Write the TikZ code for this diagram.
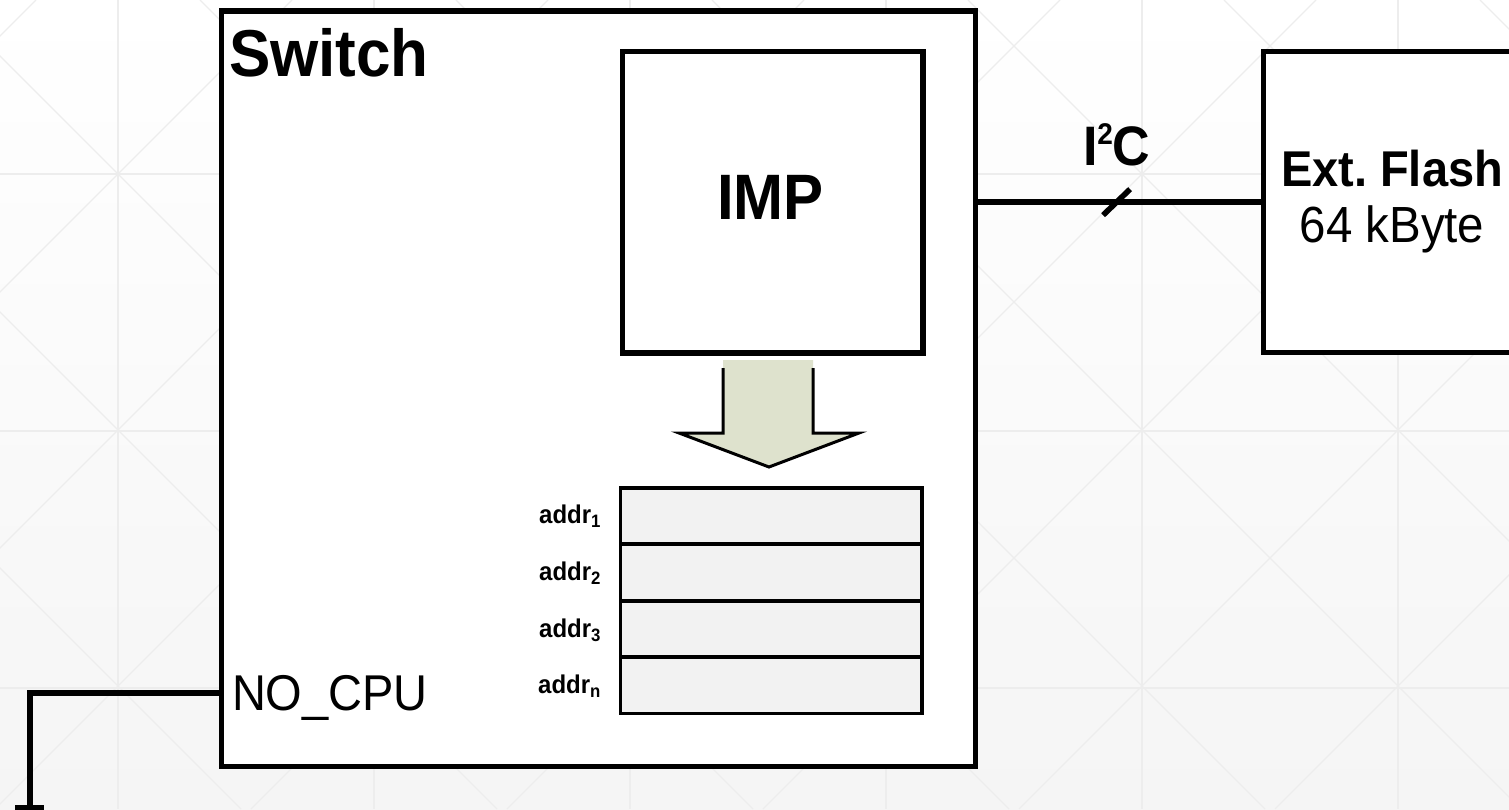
\documentclass[tikz,border=0pt]{standalone}
\usepackage{fontspec}
\setmainfont{Liberation Sans}
\usepackage{graphicx}
\usetikzlibrary{calc}
\definecolor{bgbot}{RGB}{245,245,245}
\definecolor{gridc}{RGB}{237,237,237}
\definecolor{arrowc}{RGB}{222,226,205}
\definecolor{rowc}{RGB}{242,242,242}
\newcommand{\tl}[1]{\scalebox{1}[1.07]{#1}}
\newcommand{\fsz}[1]{\fontsize{#1}{#1}\selectfont}
\begin{document}
\begin{tikzpicture}[x=1pt,y=-1pt,
  box/.style={draw=black, line width=5.8pt, fill=white, anchor=north west, inner sep=0pt},
  rowbox/.style={draw=black, line width=3.8pt, fill=rowc, anchor=north west, inner sep=0pt,
    minimum width=301.5pt, minimum height=56.4pt},
  lbl/.style={inner sep=0pt, outer sep=0pt},
  wire/.style={draw=black, line width=5.6pt},
  gridline/.style={draw=gridc, line width=1.3pt}]
\useasboundingbox (0,0) rectangle (1509,809);
\clip (0,0) rectangle (1509,809);
% background
\shade[top color=white, bottom color=bgbot] (0,0) rectangle (1509,809);
\begin{scope}[gridline]
  \foreach \x in {118,374,...,1398} \draw (\x,0) -- (\x,809);
  \foreach \y in {174,431,688} \draw (0,\y) -- (1509,\y);
  \foreach \c in {-824,-568,...,1480} \draw (\c,0) -- (\c+809,809);
  \foreach \d in {36,292,...,2340} \draw (\d,0) -- (\d-809,809);
\end{scope}
% boxes
\node[box, minimum width=754pt, minimum height=755.5pt] (sw) at (218.5,8) {};
\node[box, minimum width=300.5pt, minimum height=301.5pt] (imp) at (619.5,48.5) {};
\node[box, minimum width=300pt, minimum height=301pt] (flash) at (1260.5,48.5) {};
% address table
\foreach \i/\yy in {1/486,2/542.4,3/598.8,4/655.2}
  \node[rowbox] (r\i) at (618.5,\yy) {};
% block arrow
\fill[arrowc] (723,360) -- (723,433) -- (679,433) -- (769,467) -- (859,433) -- (813,433) -- (813,360) -- cycle;
\draw[line width=3pt, line join=miter] (723,368) -- (723,433) -- (679,433) -- (769,467) -- (859,433) -- (813,433) -- (813,368);
% texts
\node[lbl, anchor=base west] (swt) at (229,76) {\tl{\fsz{62}\bfseries Switch}};
\node[lbl, anchor=base] (impt) at (770.5,219) {\tl{\fsz{60}\bfseries IMP}};
\node[lbl, anchor=base west] (i2c) at (1083,165) {\tl{\fsz{52}\bfseries I\raisebox{19pt}{\fsz{28}2}\kern-1pt C}};
\node[lbl, anchor=base] (ft) at (1392,186) {\tl{\fsz{47}\bfseries Ext.\ Flash}};
\node[lbl, anchor=base] (fk) at (1392,242) {\tl{\fsz{47.5}64 kByte}};
\node[lbl, anchor=base west] (nc) at (232,710) {\tl{\fsz{47}NO\_CPU}};
\foreach \s/\yy in {1/523,2/580,3/637,n/693}
  \node[lbl, anchor=base east] (a\s) at (601,\yy) {\tl{\fsz{24}\bfseries addr\textsubscript{\s}}};
% I2C bus
\draw[wire] (sw.east |- imp.east) -- (flash.west |- imp.east);
\coordinate (mid) at ($(sw.east |- imp.east)!0.49!(flash.west |- imp.east)$);
\draw[wire] ([shift={(-13.5,13)}]mid) -- ([shift={(13.5,-13)}]mid);
% NO_CPU wire
\coordinate (pin) at (sw.west |- 0,693);
\coordinate (gnd) at (30,808);
\draw[wire] (pin) -| (gnd);
\draw[wire] ([xshift=-15pt]gnd) -- ([xshift=14pt]gnd);
\end{tikzpicture}
\end{document}
